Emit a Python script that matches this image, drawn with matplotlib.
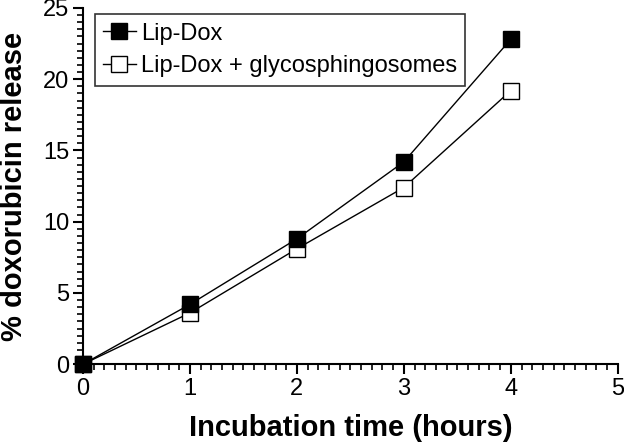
import matplotlib
matplotlib.use('Agg')
import matplotlib.pyplot as plt
from matplotlib.ticker import MultipleLocator

plt.rcParams['font.family'] = ['Liberation Sans', 'DejaVu Sans']

# data
hours = [0, 1, 2, 3, 4]
lip_dox = [0, 4.2, 8.8, 14.2, 22.8]
lip_dox_glyco = [0, 3.6, 8.1, 12.4, 19.2]

fig = plt.figure(figsize=(6.24, 4.42), dpi=100)
ax = fig.add_axes([0.133, 0.176, 0.857, 0.806])

ax.plot(hours, lip_dox, color='black', lw=1, marker='s', ms=11,
        mfc='black', mec='black', label='Lip-Dox', clip_on=False, zorder=4)
ax.plot(hours, lip_dox_glyco, color='black', lw=1, marker='s', ms=11,
        mfc='white', mec='black', label='Lip-Dox + glycosphingosomes',
        clip_on=False, zorder=3)

ax.set_xlim(0, 5)
ax.set_ylim(0, 25)
ax.xaxis.set_major_locator(MultipleLocator(1))
ax.xaxis.set_minor_locator(MultipleLocator(0.1))
ax.yaxis.set_major_locator(MultipleLocator(5))
ax.yaxis.set_minor_locator(MultipleLocator(0.5))

for s in ['top', 'right']:
    ax.spines[s].set_visible(False)
for s in ['left', 'bottom']:
    ax.spines[s].set_linewidth(1.5)

ax.tick_params(which='major', length=7, width=1.5, labelsize=17, pad=3)
ax.tick_params(which='minor', length=4, width=1.2)

ax.set_xlabel('Incubation time (hours)', fontsize=21, fontweight='bold', labelpad=10)
ax.set_ylabel('% doxorubicin release', fontsize=21, fontweight='bold', labelpad=11)

leg = ax.legend(loc='upper left', bbox_to_anchor=(0.013, 0.995), fontsize=17,
                frameon=True, fancybox=False, edgecolor='black',
                handlelength=1.4, handletextpad=0.2, borderpad=0.35,
                labelspacing=0.45, borderaxespad=0.2)
leg.get_frame().set_linewidth(1.2)

fig.savefig('out.png', dpi=100)
